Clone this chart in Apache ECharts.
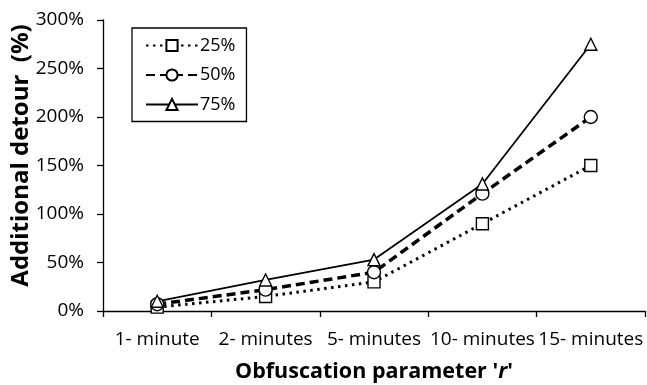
<!DOCTYPE html>
<html><head><meta charset="utf-8">
<script src="https://cdn.jsdelivr.net/npm/echarts@6/dist/echarts.min.js"></script>
<style>html,body{margin:0;padding:0;background:#fff}#c{width:647px;height:385px}</style>
</head><body><div id="c"></div>
<script>
const categories = ['1- minute','2- minutes','5- minutes','10- minutes','15- minutes'];
const seriesNames = ['25%','50%','75%'];
const s25 = [4, 15, 30, 90, 150];
const s50 = [7, 22, 40, 121, 200];
const s75 = [10, 32, 53, 131, 275];
const yTicks = [0, 50, 100, 150, 200, 250, 300];

const chart = echarts.init(document.getElementById('c'));
const font = 'Open Sans, sans-serif';
function mk(name, data, sym, type, width, size, cap){
  return {name, type:'line', data, symbol:sym, symbolSize:size, showSymbol:true,
    lineStyle:{color:'#000', width, type, cap: cap || 'butt'},
    itemStyle:{color:'#fff', borderColor:'#000', borderWidth:1.4},
    emphasis:{disabled:true}, animation:false, z: 3};
}
chart.setOption({
  animation:false,
  grid:{left:103, right:2, top:20, bottom:74, containLabel:false, outerBoundsMode:'none'},
  legend:{
    left:132, top:28, orient:'vertical', itemGap:9.5, itemWidth:52, itemHeight:14,
    borderColor:'#000', borderWidth:1.3, padding:[7.5,11,7,13],
    textStyle:{fontFamily:font, fontSize:18, lineHeight:20, color:'#000', padding:[0,0,0,-3]},
    data: seriesNames
  },
  xAxis:{type:'category', data:categories, boundaryGap:true,
    axisLine:{lineStyle:{color:'#000', width:1.3}},
    axisTick:{show:true, alignWithLabel:false, length:6, lineStyle:{color:'#000', width:1.3}},
    axisLabel:{fontFamily:font, fontSize:19, color:'#000', margin:19, interval:0},
    name:"Obfuscation parameter '{i|r}'", nameLocation:'middle', nameGap:50, nameMoveOverlap:false,
    nameTextStyle:{fontFamily:font, fontSize:21.5, fontWeight:'bold', color:'#000',
      rich:{i:{fontFamily:font, fontSize:21.5, fontWeight:'bold', fontStyle:'italic', color:'#000'}}}
  },
  yAxis:{type:'value', min:yTicks[0], max:yTicks[yTicks.length-1], interval:50,
    axisLine:{show:true, lineStyle:{color:'#000', width:1.3}},
    axisTick:{show:true, length:6, lineStyle:{color:'#000', width:1.3}},
    splitLine:{show:false},
    axisLabel:{fontFamily:font, fontSize:19, color:'#000', margin:19, formatter:'{value}%'},
    name:'Additional detour  (%)', nameLocation:'middle', nameGap:70, nameMoveOverlap:false,
    nameTextStyle:{fontFamily:font, fontSize:24, fontWeight:'bold', color:'#000', padding:[0,0,0,20]}
  },
  series:[
    mk(seriesNames[0], s25, 'rect', [2.5,4.5], 3, 12),
    mk(seriesNames[1], s50, 'circle', [9,5], 3.5, 13),
    mk(seriesNames[2], s75, 'triangle', 'solid', 1.8, 12)
  ]
});
</script></body></html>
